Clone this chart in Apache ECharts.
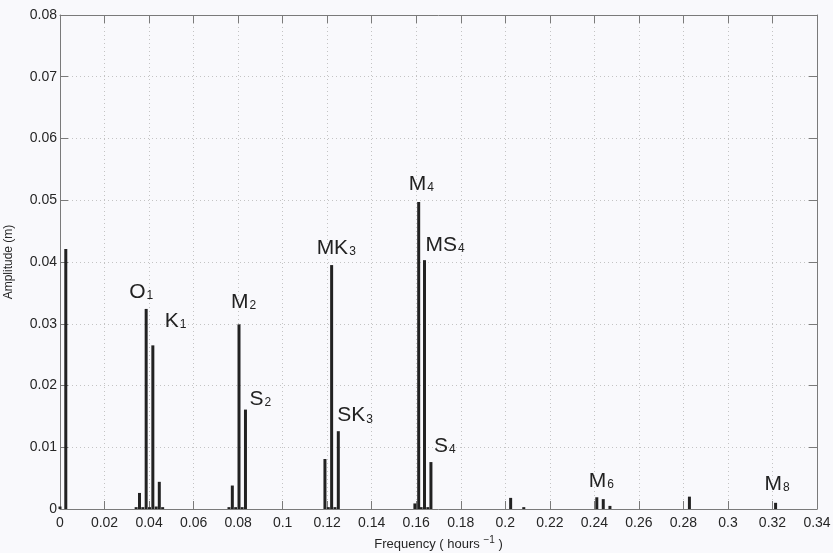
<!DOCTYPE html>
<html>
<head>
<meta charset="utf-8">
<title>Amplitude spectrum</title>
<script src="https://cdn.jsdelivr.net/npm/echarts@6/dist/echarts.min.js"></script>
<style>
  html, body { margin: 0; padding: 0; background: #f9f9fc; }
  #chart { width: 833px; height: 553px; }
</style>
</head>
<body>
<div id="chart"></div>
<script>
// Spectral lines: frequency (cycles per hour) and amplitude (m)
const freqs = [
  0.0000, 0.0026,
  0.0342, 0.0357, 0.0372, 0.0387, 0.0402, 0.0417, 0.0432, 0.0446, 0.0461,
  0.0759, 0.0774, 0.0789, 0.0804, 0.0818, 0.0833,
  0.1190, 0.1205, 0.1220, 0.1235, 0.1250,
  0.1594, 0.1611, 0.1622, 0.1637, 0.1652, 0.1666,
  0.2024, 0.2083,
  0.2411, 0.2440, 0.2470,
  0.2827,
  0.3214
];
const amps = [
  0.0004, 0.0421,
  0.0003, 0.0026, 0.0003, 0.0324, 0.0003, 0.0265, 0.0004, 0.0044, 0.0003,
  0.0003, 0.0038, 0.0003, 0.0299, 0.0003, 0.0161,
  0.0081, 0.0003, 0.0395, 0.0003, 0.0126,
  0.0009, 0.0497, 0.0003, 0.0403, 0.0003, 0.0076,
  0.0018, 0.0003,
  0.0019, 0.0016, 0.0005,
  0.0020,
  0.0010
];

// Tidal constituent names (letters + subscript) and the line each one marks
const tideNames = ['O', 'K', 'M', 'S', 'MK', 'SK', 'M', 'MS', 'S', 'M', 'M'];
const tideSubs  = ['1', '1', '2', '2', '3', '3', '4', '4', '4', '6', '8'];
const tideFreqs = [0.0387, 0.0417, 0.0804, 0.0833, 0.1220, 0.1250, 0.1611, 0.1637, 0.1666, 0.2411, 0.3214];

// Axis ticks
const xTicks = { min: 0, max: 0.34, step: 0.02 };
const yTicks = { min: 0, max: 0.08, step: 0.01 };

// Label placement (px from the top of each line: left edge, baseline)
const labelOffsets = [
  [-17, -10], [12, -18], [-8, -16], [4, -4], [-15, -10], [-1, -9],
  [-10, -11], [1, -8], [3, -9], [-8, -10], [-11, -12]
];

const FONT = '"Liberation Sans", Arial, Helvetica, sans-serif';
const TXT = '#262626';
const AXIS = '#7a7a7a';

const barData = freqs.map((f, i) => [f, amps[i]]);
const ampAt = f => {
  const i = freqs.findIndex(v => Math.abs(v - f) < 1e-6);
  return amps[i];
};
const labelData = tideFreqs.map((f, i) => ({
  value: [f, ampAt(f)],
  label: {
    formatter: '{m|' + tideNames[i] + '}{s|' + tideSubs[i] + '}',
    position: [labelOffsets[i][0], labelOffsets[i][1] + 4]
  }
}));

const gridLine = { show: true, lineStyle: { color: '#c4c4c4', type: [1, 3], width: 1 } };
const inTick = { show: true, inside: true, length: 8, lineStyle: { color: AXIS } };
const axisLine = { show: true, onZero: false, lineStyle: { color: AXIS, width: 1 } };

const chart = echarts.init(document.getElementById('chart'), null, { renderer: 'canvas' });
chart.setOption({
  backgroundColor: '#f9f9fc',
  animation: false,
  grid: { left: 60, right: 16, top: 15, bottom: 44, containLabel: false, outerBoundsMode: 'none' },
  xAxis: [
    {
      type: 'value', min: xTicks.min, max: xTicks.max, interval: xTicks.step,
      axisLine: axisLine, axisTick: inTick, splitLine: gridLine,
      axisLabel: { color: TXT, fontFamily: FONT, fontSize: 14, margin: 7,
                   formatter: v => String(+v.toFixed(2)) },
      name: 'Frequency ( hours {sup|−1} )',
      nameLocation: 'middle', nameGap: 26,
      nameTextStyle: { color: TXT, fontFamily: FONT, fontSize: 13,
                       rich: { sup: { fontSize: 10, verticalAlign: 'top', padding: [0, 0, 8, 0], color: TXT, fontFamily: FONT } } }
    },
    {
      type: 'value', position: 'top', min: xTicks.min, max: xTicks.max, interval: xTicks.step,
      axisLine: axisLine, axisTick: inTick, splitLine: { show: false }, axisLabel: { show: false }
    }
  ],
  yAxis: [
    {
      type: 'value', min: yTicks.min, max: yTicks.max, interval: yTicks.step,
      axisLine: axisLine, axisTick: inTick, splitLine: gridLine,
      axisLabel: { color: TXT, fontFamily: FONT, fontSize: 14, margin: 3,
                   formatter: v => String(+v.toFixed(2)) },
      name: 'Amplitude (m)', nameLocation: 'middle', nameGap: 45,
      nameTextStyle: { color: TXT, fontFamily: FONT, fontSize: 12 }
    },
    {
      type: 'value', position: 'right', min: yTicks.min, max: yTicks.max, interval: yTicks.step,
      axisLine: axisLine, axisTick: inTick, splitLine: { show: false }, axisLabel: { show: false }
    }
  ],
  series: [
    {
      type: 'bar', xAxisIndex: 0, yAxisIndex: 0,
      data: barData, barWidth: 3,
      itemStyle: { color: '#222222' },
      z: 3
    },
    {
      type: 'scatter', xAxisIndex: 0, yAxisIndex: 0,
      data: labelData, symbolSize: 0, silent: true,
      itemStyle: { opacity: 1 },
      label: {
        show: true, align: 'left', verticalAlign: 'bottom',
        color: '#222222', fontFamily: FONT,
        rich: {
          m: { fontSize: 21, lineHeight: 24, color: '#222222', fontFamily: FONT, verticalAlign: 'bottom' },
          s: { fontSize: 12, lineHeight: 24, color: '#222222', fontFamily: FONT, verticalAlign: 'bottom', padding: [0, 0, 1, 1] }
        }
      },
      z: 5
    }
  ]
});
</script>
</body>
</html>
